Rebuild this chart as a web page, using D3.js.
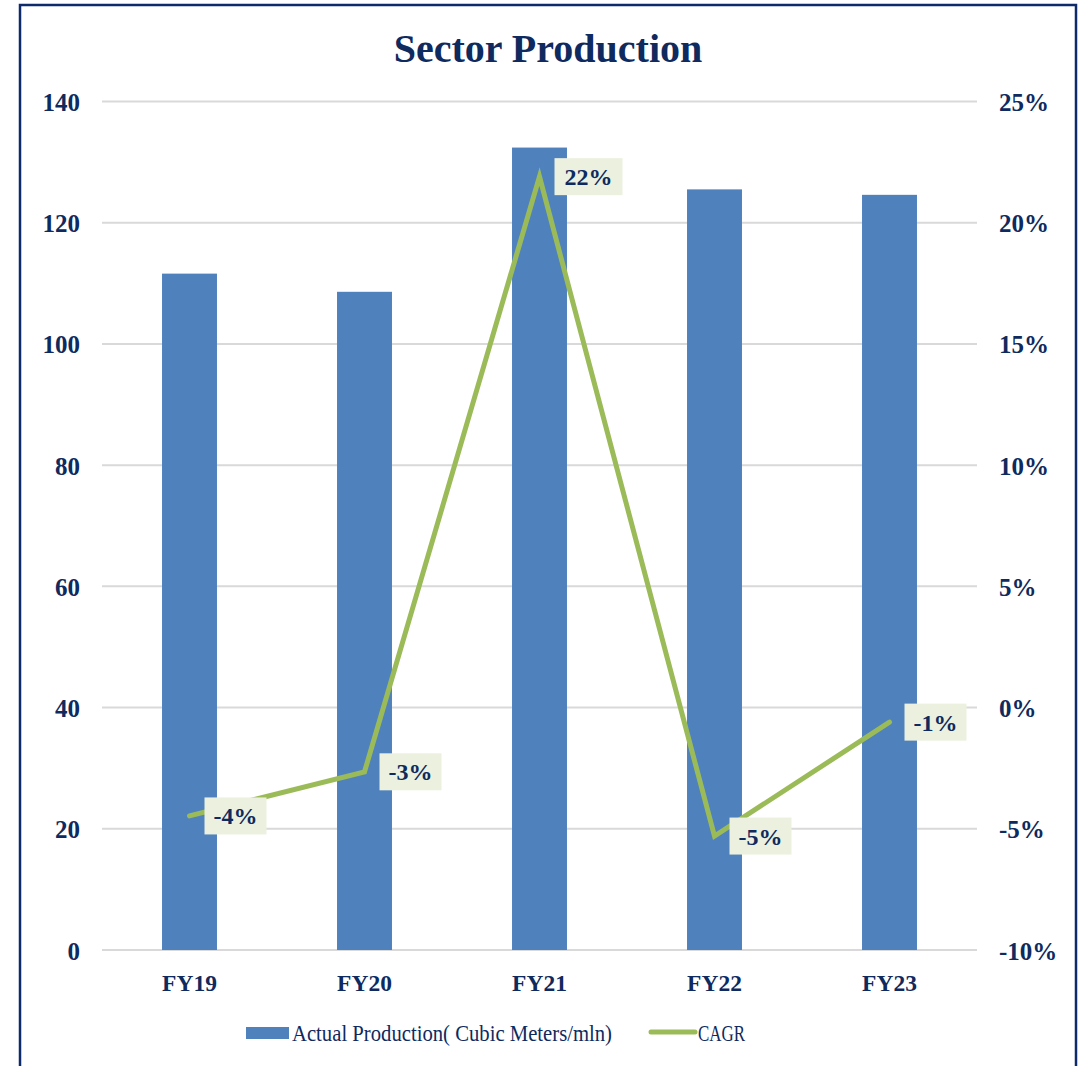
<!DOCTYPE html>
<html><head><meta charset="utf-8">
<script src="https://cdn.jsdelivr.net/npm/d3@7"></script>
<style>body{margin:0;background:#fff}svg{display:block}</style>
</head><body>
<svg id="c" width="1081" height="1066"></svg>
<script>
const categories = ["FY19","FY20","FY21","FY22","FY23"];
const production = [111.6, 108.6, 132.4, 125.5, 124.6];
const cagr = [-4.47, -2.65, 21.9, -5.3, -0.6];
const cagrLabels = ["-4%","-3%","22%","-5%","-1%"];
const leftTicks = [0,20,40,60,80,100,120,140];
const rightTicks = [-10,-5,0,5,10,15,20,25];

const navy = "#0e2a5e";
const font = "'Liberation Serif', 'DejaVu Serif', serif";
const svg = d3.select("#c");

// frame
svg.append("rect").attr("x",20).attr("y",5).attr("width",1056).attr("height",1080)
  .attr("fill","none").attr("stroke","#0d2a6b").attr("stroke-width",2.5);

const x0 = 102, x1 = 977, yTop = 101.5, yBot = 950;
const x = d3.scaleBand().domain(categories).range([x0,x1]).paddingInner(0.686).paddingOuter(0.343);
const y = d3.scaleLinear().domain([0,140]).range([yBot,yTop]);
const y2 = d3.scaleLinear().domain([-10,25]).range([yBot,yTop]);

// title
svg.append("text").attr("x",548).attr("y",62).attr("text-anchor","middle")
  .attr("font-family",font).attr("font-weight","bold").attr("font-size",40)
  .attr("fill",navy).text("Sector Production");

// gridlines
svg.append("g").selectAll("line").data(leftTicks).join("line")
  .attr("x1",x0).attr("x2",x1).attr("y1",d=>y(d)).attr("y2",d=>y(d))
  .attr("stroke","#d9d9d9").attr("stroke-width",2);

// left axis
const la = svg.append("g").attr("transform",`translate(80,0)`)
  .call(d3.axisLeft(y).tickValues(leftTicks).tickSize(0).tickPadding(0));
la.select(".domain").remove();
la.selectAll("text").attr("font-family",font).attr("font-weight","bold")
  .attr("font-size",25).attr("fill",navy).attr("dy","0.36em");

// right axis
const ra = svg.append("g").attr("transform",`translate(999,0)`)
  .call(d3.axisRight(y2).tickValues(rightTicks).tickSize(0).tickPadding(0).tickFormat(d=>d+"%"));
ra.select(".domain").remove();
ra.selectAll("text").attr("font-family",font).attr("font-weight","bold")
  .attr("font-size",25).attr("fill",navy).attr("dy","0.36em");

// bottom axis labels
const ba = svg.append("g").attr("transform",`translate(0,${yBot+16})`)
  .call(d3.axisBottom(x).tickSize(0).tickPadding(8));
ba.select(".domain").remove();
ba.selectAll("text").attr("font-family",font).attr("font-weight","bold")
  .attr("font-size",23.5).attr("fill",navy);

// bars
svg.append("g").selectAll("rect").data(production).join("rect")
  .attr("x",(d,i)=>x(categories[i])).attr("width",x.bandwidth())
  .attr("y",d=>y(d)).attr("height",d=>yBot-y(d)).attr("fill","#4f81bd");

// line
const cx = i => x(categories[i]) + x.bandwidth()/2;
svg.append("path").datum(cagr)
  .attr("d", d3.line().x((d,i)=>cx(i)).y(d=>y2(d)))
  .attr("fill","none").attr("stroke","#9bbb59").attr("stroke-width",5)
  .attr("stroke-linecap","round").attr("stroke-linejoin","miter");

// labels
const lg = svg.append("g").selectAll("g").data(cagr).join("g")
  .attr("transform",(d,i)=>`translate(${cx(i)+15},${y2(d)})`);
lg.append("rect").attr("x",0).attr("y",-18.5).attr("height",37)
  .attr("width",(d,i)=>cagrLabels[i][0]!=="-" ? 68 : 62)
  .attr("fill","#ebf1de");
lg.append("text").attr("x",(d,i)=>cagrLabels[i][0]!=="-"?34:31).attr("y",8.5)
  .attr("text-anchor","middle").attr("font-family",font).attr("font-weight","bold")
  .attr("font-size",24).attr("fill",navy).text((d,i)=>cagrLabels[i]);

// legend
const leg = svg.append("g");
leg.append("rect").attr("x",246).attr("y",1027).attr("width",43).attr("height",12).attr("fill","#4f81bd");
leg.append("text").attr("x",292).attr("y",1041).attr("font-family",font).attr("font-size",23)
  .attr("fill",navy).attr("textLength",320).attr("lengthAdjust","spacingAndGlyphs")
  .text("Actual Production( Cubic Meters/mln)");
leg.append("line").attr("x1",651).attr("x2",695).attr("y1",1032).attr("y2",1032)
  .attr("stroke","#9bbb59").attr("stroke-width",5).attr("stroke-linecap","round");
leg.append("text").attr("x",698).attr("y",1041).attr("font-family",font).attr("font-size",23)
  .attr("fill",navy).attr("textLength",47).attr("lengthAdjust","spacingAndGlyphs").text("CAGR");
</script>
</body></html>
